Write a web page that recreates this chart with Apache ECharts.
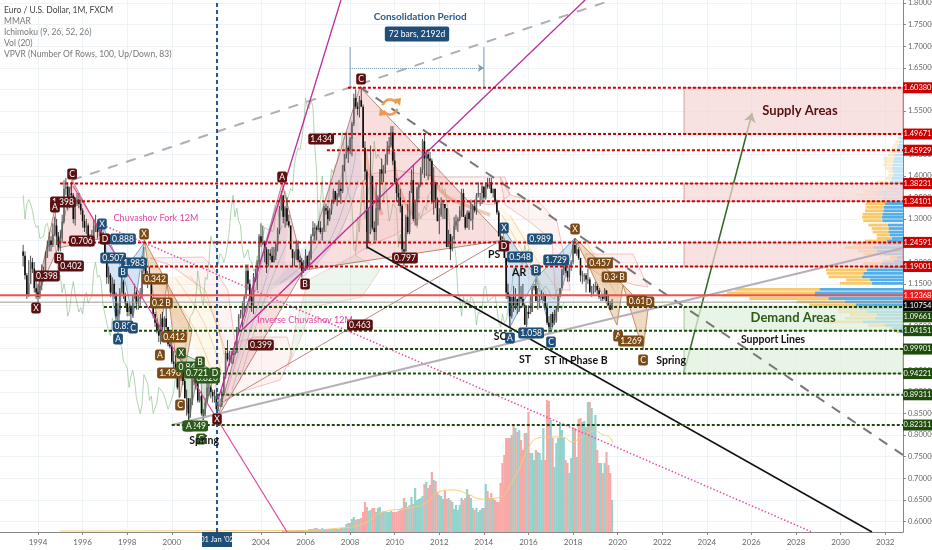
<!DOCTYPE html>
<html><head><meta charset="utf-8">
<style>html,body{margin:0;padding:0;background:#fff;overflow:hidden}#c{width:932px;height:550px}</style>
<script src="https://cdn.jsdelivr.net/npm/echarts@6/dist/echarts.min.js"></script>
</head><body><div id="c"></div>
<script>
// ---------- price, monthly from May 1993 ----------
const closes=[1.215,1.17,1.125,1.15,1.20,1.185,1.14,1.13,
1.12,1.145,1.175,1.17,1.21,1.235,1.25,1.24,1.265,1.285,1.26,1.235,
1.255,1.295,1.37,1.375,1.335,1.36,1.355,1.30,1.335,1.345,1.335,1.32,
1.295,1.28,1.285,1.255,1.255,1.26,1.285,1.29,1.27,1.275,1.26,1.25,
1.21,1.165,1.17,1.13,1.15,1.125,1.075,1.09,1.13,1.155,1.125,1.105,
1.085,1.095,1.08,1.115,1.13,1.105,1.115,1.12,1.18,1.20,1.165,1.17,
1.155,1.10,1.08,1.06,1.04,1.03,1.07,1.05,1.07,1.05,1.01,1.005,
0.97,0.965,0.955,0.91,0.935,0.95,0.925,0.885,0.885,0.85,0.87,0.94,
0.94,0.92,0.88,0.89,0.85,0.85,0.875,0.91,0.91,0.90,0.89,0.89,
0.86,0.87,0.87,0.90,0.935,0.99,0.975,0.98,0.985,0.99,0.99,1.05,
1.075,1.08,1.09,1.12,1.18,1.15,1.12,1.10,1.165,1.16,1.20,1.26,
1.245,1.245,1.23,1.195,1.22,1.215,1.20,1.215,1.24,1.275,1.325,1.355,
1.305,1.325,1.295,1.285,1.23,1.21,1.21,1.23,1.205,1.20,1.18,1.185,
1.215,1.19,1.21,1.26,1.28,1.28,1.275,1.28,1.27,1.275,1.325,1.32,
1.30,1.32,1.335,1.365,1.345,1.355,1.37,1.365,1.425,1.45,1.465,1.46,
1.485,1.52,1.58,1.56,1.555,1.575,1.56,1.465,1.41,1.27,1.27,1.40,
1.28,1.27,1.325,1.325,1.415,1.405,1.425,1.43,1.465,1.47,1.50,1.435,
1.385,1.36,1.35,1.33,1.23,1.225,1.305,1.27,1.36,1.39,1.30,1.34,
1.37,1.38,1.415,1.48,1.44,1.45,1.44,1.435,1.34,1.385,1.345,1.295,
1.31,1.335,1.335,1.325,1.235,1.265,1.23,1.255,1.285,1.295,1.30,1.32,
1.36,1.305,1.28,1.315,1.30,1.30,1.33,1.32,1.355,1.36,1.36,1.375,
1.35,1.38,1.375,1.385,1.36,1.37,1.34,1.315,1.26,1.25,1.245,1.21,
1.13,1.12,1.075,1.12,1.10,1.115,1.10,1.12,1.115,1.10,1.055,1.085,
1.08,1.085,1.14,1.145,1.11,1.11,1.115,1.115,1.125,1.095,1.06,1.05,
1.08,1.06,1.065,1.09,1.125,1.14,1.185,1.19,1.18,1.165,1.19,1.20,
1.24,1.22,1.23,1.21,1.17,1.17,1.17,1.16,1.16,1.13,1.13,1.145,
1.145,1.135,1.12,1.12,1.115,1.135,1.11,1.10,1.09,1.1075];
const highs=[1.24,1.225,1.175,1.205,1.215,1.21,1.20,1.165,
1.15,1.16,1.195,1.19,1.225,1.25,1.27,1.26,1.29,1.305,1.30,1.27,
1.275,1.31,1.39,1.395,1.385,1.375,1.385,1.36,1.345,1.36,1.36,1.345,
1.325,1.31,1.30,1.29,1.265,1.275,1.30,1.31,1.295,1.29,1.285,1.27,
1.255,1.21,1.19,1.175,1.165,1.16,1.13,1.105,1.14,1.17,1.16,1.13,
1.11,1.105,1.10,1.125,1.15,1.135,1.125,1.14,1.215,1.235,1.205,1.18,
1.19,1.155,1.11,1.085,1.07,1.055,1.08,1.085,1.075,1.095,1.05,1.03,
1.035,0.995,0.985,0.965,0.94,0.965,0.955,0.93,0.905,0.885,0.885,0.945,
0.955,0.945,0.935,0.90,0.90,0.86,0.885,0.925,0.93,0.915,0.905,0.905,
0.905,0.88,0.885,0.905,0.94,0.995,1.02,0.995,0.995,0.995,1.015,1.05,
1.08,1.09,1.11,1.125,1.195,1.195,1.16,1.13,1.175,1.185,1.205,1.265,
1.29,1.285,1.25,1.235,1.23,1.23,1.235,1.235,1.245,1.28,1.33,1.365,
1.35,1.33,1.35,1.31,1.285,1.23,1.225,1.25,1.25,1.215,1.21,1.205,
1.23,1.215,1.225,1.265,1.295,1.29,1.285,1.295,1.295,1.28,1.33,1.335,
1.33,1.325,1.345,1.37,1.36,1.36,1.39,1.38,1.425,1.45,1.50,1.47,
1.49,1.525,1.59,1.60,1.57,1.585,1.605,1.565,1.48,1.415,1.325,1.47,
1.40,1.295,1.38,1.355,1.415,1.44,1.425,1.45,1.48,1.49,1.515,1.515,
1.455,1.395,1.38,1.37,1.335,1.245,1.31,1.335,1.365,1.415,1.425,1.345,
1.375,1.385,1.42,1.485,1.495,1.46,1.455,1.455,1.44,1.42,1.385,1.35,
1.325,1.35,1.345,1.335,1.325,1.275,1.265,1.26,1.305,1.31,1.305,1.33,
1.37,1.37,1.31,1.32,1.32,1.345,1.335,1.345,1.36,1.385,1.36,1.38,
1.375,1.385,1.395,1.395,1.395,1.37,1.37,1.345,1.32,1.285,1.26,1.25,
1.21,1.15,1.125,1.12,1.145,1.14,1.115,1.17,1.145,1.15,1.105,1.10,
1.10,1.125,1.145,1.15,1.16,1.14,1.125,1.135,1.13,1.125,1.105,1.075,
1.08,1.085,1.09,1.095,1.125,1.14,1.18,1.205,1.21,1.18,1.195,1.205,
1.25,1.255,1.245,1.235,1.21,1.18,1.175,1.175,1.185,1.165,1.145,1.15,
1.155,1.15,1.14,1.125,1.125,1.14,1.13,1.125,1.11,1.115];
const lows=[1.19,1.16,1.115,1.12,1.15,1.175,1.13,1.115,
1.105,1.115,1.135,1.155,1.165,1.21,1.225,1.225,1.235,1.26,1.24,1.225,
1.225,1.245,1.29,1.355,1.32,1.325,1.345,1.29,1.285,1.33,1.325,1.31,
1.28,1.27,1.265,1.245,1.235,1.25,1.255,1.27,1.255,1.26,1.25,1.24,
1.205,1.15,1.15,1.12,1.125,1.115,1.07,1.065,1.08,1.13,1.115,1.095,
1.075,1.075,1.065,1.075,1.115,1.09,1.09,1.095,1.115,1.175,1.15,1.14,
1.15,1.095,1.07,1.05,1.035,1.015,1.01,1.04,1.025,1.045,1.005,1.0,
0.965,0.955,0.95,0.905,0.885,0.925,0.915,0.885,0.845,0.825,0.84,0.87,
0.915,0.905,0.875,0.875,0.845,0.835,0.84,0.875,0.89,0.885,0.875,0.875,
0.855,0.855,0.865,0.865,0.895,0.93,0.97,0.96,0.965,0.965,0.985,0.99,
1.035,1.07,1.05,1.075,1.115,1.135,1.11,1.085,1.08,1.155,1.135,1.195,
1.235,1.24,1.20,1.175,1.19,1.205,1.20,1.20,1.205,1.225,1.265,1.32,
1.29,1.28,1.285,1.28,1.23,1.19,1.19,1.205,1.20,1.185,1.165,1.175,
1.18,1.185,1.185,1.205,1.26,1.25,1.25,1.275,1.265,1.25,1.27,1.31,
1.285,1.295,1.31,1.335,1.34,1.33,1.35,1.335,1.36,1.41,1.44,1.43,
1.45,1.445,1.515,1.555,1.54,1.535,1.56,1.465,1.39,1.23,1.245,1.265,
1.275,1.25,1.25,1.285,1.32,1.385,1.385,1.405,1.425,1.45,1.465,1.425,
1.385,1.34,1.33,1.315,1.215,1.19,1.225,1.265,1.265,1.365,1.295,1.285,
1.285,1.345,1.375,1.405,1.395,1.40,1.39,1.40,1.335,1.31,1.325,1.295,
1.265,1.305,1.30,1.30,1.235,1.245,1.205,1.225,1.25,1.275,1.27,1.295,
1.305,1.305,1.275,1.28,1.275,1.295,1.275,1.315,1.31,1.35,1.33,1.335,
1.345,1.345,1.37,1.37,1.36,1.35,1.335,1.31,1.26,1.25,1.235,1.21,
1.115,1.115,1.05,1.07,1.085,1.09,1.08,1.085,1.105,1.095,1.055,1.05,
1.07,1.08,1.085,1.135,1.11,1.09,1.095,1.115,1.11,1.09,1.055,1.035,
1.045,1.05,1.055,1.06,1.085,1.12,1.14,1.17,1.175,1.155,1.155,1.18,
1.195,1.22,1.215,1.205,1.155,1.15,1.155,1.13,1.15,1.135,1.12,1.125,
1.13,1.125,1.115,1.11,1.11,1.115,1.11,1.10,1.09,1.09];
const firstOpen=1.225;
// ---------- volume (arbitrary units), monthly from Jan 2005 ----------
const volumes=[1,1,1,1,1,1,2,2,2,2,2,2, 2,2,3,3,3,4,4,3,3,4,3,3, 3,3,3,3,3,3,3,4,4,4,8,9,
9,13,15,12,13,13,14,20,30,25,21,22, 24,24,20,24,25,20,21,21,20,20,21,20,
20,20,21,22,24,34,30,25,27,35,28,44, 32,33,34,36,48,50,44,47,60,52,51,40,
37,36,33,42,33,34,32,30,23,27,22,27, 34,32,34,43,37,34,24,22,24,20,22,24,
24,48,41,34,39,34,32,30,30,49,69,77, 94,94,94,97,108,104,100,102,92,82,99,99,
120,79,79,72,82,80,79,72,104,72,132,131, 112,94,65,89,94,109,102,94,72,69,59,74,
105,104,75,113,114,110,111,105,130,130,124,107, 117,82,69,69,59,69,80,67,59,32];
const volumeMA=[[1994.99,1],[2005.75,1.5],[2007.55,4],[2008.45,7],[2009.48,20],[2010.69,24],[2011.45,30],[2011.94,40],[2012.62,42],[2013.38,37],[2013.83,33],[2014.59,34],[2015.31,52],[2016.07,87],[2016.43,94],[2016.97,95],[2017.55,95],[2017.96,90],[2018.31,94],[2018.99,101],[2019.35,97],[2019.57,96],[2019.79,89]];
// ---------- volume profile rows: price, up, down ----------
const vpvrPrice=[1.487,1.479,1.471,1.464,1.456,1.448,1.440,1.433,1.425,1.417,1.410,1.402,1.394,1.386,1.379,1.371,1.363,1.356,1.348,1.340,1.335,1.327,1.319,1.311,1.304,1.296,1.286,1.278,1.270,1.263,1.255,1.249,1.242,1.234,1.226,1.219,1.211,1.203,1.197,1.190,1.182,1.174,1.166,1.159,1.151,1.137,1.129,1.124,1.116,1.108,1.101,1.093,1.085,1.078,1.070,1.062,1.054,1.047,1.039];
const vpvrUp=[3.3,4.3,5,5.7,6.7,6.7,10.7,9.3,9.3,6.7,5,5,5.7,13.3,18,16.7,16.7,21.7,23.3,23,19.3,18.3,18.3,19.7,19.7,19,19.3,17.3,15.7,13.3,15,21.7,25,28.3,18.3,20,6.7,10,18.3,23.3,40.7,36.7,33.3,24,31.7,84.3,88,93,79,48,46.7,21.7,28.3,26.7,30,40,16.7,3.3,3.3];
const vpvrDown=[3,3.7,4.7,5.7,6.3,8,9,9.7,10.3,11.3,9.7,9.7,11.3,13,10,16,23,26,19.7,13,18,19,19.7,20.7,21.3,20.7,15.3,14,14.7,13,11.3,16.3,24.7,29.7,26.3,19.7,6.3,9.7,21.3,19.7,36.3,39.7,41.3,33,31.3,83.7,88,88,74.7,58,47,43,36.3,26.3,28,40,18,10,3];
// ---------- horizontal levels: price, start year ----------
const resistance=[[1.6038,2007.9],[1.49671,2007.01],[1.45929,2006.96],[1.38231,1994.99],[1.34101,1995.52],[1.24591,1994.9],[1.19001,1998.8]];
const support=[[1.09661,1996.96],[1.04151,1996.96],[0.99901,2002.39],[0.94221,2002.07],[0.89311,2002.0],[0.82311,2000.0]];
const lastPrice=1.12368, prevPrice=1.10754;
const yearTicks=[1994,1996,1998,2000,2002,2004,2006,2008,2010,2012,2014,2016,2018,2020,2022,2024,2026,2028,2030,2032];
const priceTicks=[0.60,0.65,0.70,0.75,0.80,0.85,0.90,0.95,1.00,1.05,1.10,1.15,1.20,1.25,1.30,1.35,1.40,1.45,1.50,1.55,1.60,1.65,1.70,1.75,1.80];
// ---------- trend lines ----------
const upperDash=[[1995.53,1.3903],[2019.75,1.807]];
const lowerDash=[[2008.44,1.6056],[2032.8,0.7537]];
const blackFork=[[2008.76,1.2352],[2031.41,0.5755]];
const blackStub=[[2008.76,1.2352],[2008.76,1.27]];
const magentaSteep=[[2002.07,0.881],[2007.59,1.807]];
const magentaLong=[[2003.15,1.043],[2018.54,1.807]];
const pinkFork=[[1995.57,1.3764],[2005.17,0.5755]];
const pinkDotted=[[1996.92,1.2861],[2028.72,0.5755]];
const grayBase=[[2000.0,0.8232],[2032.8,1.2329]];
const brownTrace=[[2002.07,0.8695],[2014.95,1.256]];
const arrowUp=[[2022.98,0.9458],[2026.03,1.5454]];
// ---------- harmonic patterns ----------
const redA=[[[1993.91,1.1194],[1994.76,1.3255],[1994.9,1.2328]],[[1994.9,1.2328],[1995.53,1.3903],[1996.92,1.256]],
            [[2002.07,0.8416],[2004.95,1.3833],[2005.93,1.1819]],[[2005.93,1.1819],[2008.44,1.6056],[2014.95,1.2514]]];
const blueA=[[[1996.87,1.2884],[1997.59,1.0315],[1997.81,1.1773]],[[1997.81,1.1773],[1998.26,1.0708],[1998.76,1.2444]],
             [[2014.86,1.2792],[2015.17,1.05],[2016.34,1.1634]],[[2016.34,1.1634],[2017.01,1.0361],[2018.09,1.256]]];
const brownA=[[[1998.76,1.2514],[1999.47,1.0315],[1999.79,1.1518]],[[1999.79,1.1518],[2000.37,0.888],[2000.91,1.0431]],
              [[2018.09,1.256],[2019.97,1.0546],[2020.24,1.1472]],[[2020.24,1.1472],[2021.14,0.9968],[2021.36,1.0893]]];
const greenA=[[[2000.42,0.9898],[2000.77,0.8347],[2001.27,0.969]],[[2001.27,0.969],[2001.4,0.8347],[2001.9,0.9435]]];
// ---------- Ichimoku clouds ----------
const cloudRed=[[[1999.02,1.2097],[2001.40,1.2120],[2001.85,1.1889],[2002.52,1.1356],[2002.84,1.0129],[2003.73,1.0268],[2005.17,1.0268],[2005.39,0.9852],[2004.86,0.9273],[2003.06,0.8995],[2002.39,0.881],[2002.39,0.9968],[2001.49,1.1356],[1999.92,1.1935]],
 [[2008.67,1.4018],[2010.01,1.4134],[2012.03,1.3972],[2014.95,1.3972],[2015.17,1.3556],[2014.5,1.3324],[2012.26,1.344],[2010.01,1.263],[2008.89,1.2398],[2008.22,1.2167]],
 [[2014.73,1.3972],[2015.17,1.3556],[2016.52,1.337],[2017.28,1.293],[2017.55,1.2282],[2017.87,1.1356],[2017.19,1.1356],[2017.06,1.2514],[2016.07,1.293],[2014.95,1.3324]],
 [[2018.54,1.219],[2020.69,1.219],[2021.36,1.1426],[2020.78,1.1472],[2019.21,1.1704],[2018.54,1.1935]]];
const cloudGreen=[[[2005.21,0.9574],[2005.57,1.0546],[2006.11,1.1588],[2008.22,1.2167],[2009.34,1.1819],[2008.53,1.1194],[2006.29,1.0963],[2005.75,1.0199]]];
// ---------- MMAR ribbons ----------
const ribbonBlue=[[[2002.25,0.881],[2003.06,1.043],[2004.05,1.2398],[2004.86,1.3556],[2005.21,1.2745],[2005.08,1.2004],[2005.75,1.1773],[2004.5,1.1356],[2003.29,1.0083]],
 [[2004.5,1.1472],[2006.2,1.2514],[2007.77,1.4944],[2008.35,1.5755],[2008.53,1.3903],[2008.0,1.3324],[2007.55,1.2514],[2005.75,1.1588]]];
const ribbonOrange=[[[1999.25,1.1634],[2000.82,1.1704],[2001.94,1.1125],[2002.39,0.9968],[2002.03,0.881],[2001.04,0.9968],[1999.92,1.0893]],
 [[2014.64,1.3393],[2016.07,1.2514],[2017.42,1.1588],[2017.64,1.1125],[2016.52,1.1125],[2015.62,1.1935],[2014.95,1.263]],
 [[2018.31,1.263],[2019.44,1.2004],[2020.33,1.1241],[2019.75,1.1125],[2018.76,1.1819]]];
const ribbonBlueLines=[[[2004.86,1.1518],[2006.65,1.2514],[2008.09,1.5292]],[[2005.30,1.1542],[2007.10,1.2514],[2008.27,1.4597]],[[2005.75,1.1588],[2007.46,1.263],[2008.35,1.3903]],
 [[2002.43,0.8926],[2003.51,1.0893],[2004.63,1.3324]],[[2002.70,0.9042],[2003.87,1.1009],[2004.95,1.2861]],[[2003.06,0.9273],[2004.23,1.1241],[2005.13,1.2398]]];
const ribbonWarmLines=[[[1999.47,1.1588],[2001.04,1.043],[2002.07,0.8926]],[[2000.15,1.1634],[2001.49,1.0546],[2002.25,0.9389]],[[2000.82,1.168],[2001.85,1.0778],[2002.34,0.9852]],
 [[2014.82,1.3093],[2016.07,1.1935],[2016.97,1.1125]],[[2015.17,1.3093],[2016.52,1.1935],[2017.33,1.1356]],[[2018.54,1.2514],[2019.44,1.1704],[2020.02,1.1171]]];
const ribbonDrops=[[[2008.67,1.4597],[2008.98,1.3787],[2009.43,1.3093]],[[2009.88,1.4597],[2010.24,1.3671],[2010.78,1.3093]],[[2011.58,1.4018],[2012.26,1.3556],[2013.16,1.3324],[2014.28,1.3093]]];
// ---------- zones ----------
const supplyZones=[[1.4967,1.6038],[1.341,1.3823],[1.19,1.2459]];
const demandZones=[[1.0415,1.0966],[0.9422,0.999]];
const zoneStart=2022.98, xMin=1992.295, xMax=2032.8, yMin=0.5755, yMax=1.807;
// ---------- text on chart: year, price, text ----------
const labelsRed=[[1993.91,1.094,'X'],[1995.12,1.3393,'1.398'],[1994.76,1.3278,'A'],[1994.94,1.2097,'B'],[1995.53,1.4042,'C'],[1994.4,1.168,'0.398'],[1995.48,1.1912,'0.402'],[1995.97,1.2491,'0.706'],[1997.0,1.2537,'D'],[2004.95,1.3972,'A'],[2005.98,1.1495,'B'],[2008.49,1.6241,'C'],[2002.03,0.837,'X'],[2014.9,1.2375,'D'],[2006.7,1.4852,'1.434'],[2004.0,1.0083,'0.399'],[2010.46,1.2097,'0.797'],[2008.44,1.0546,'0.463']];
const labelsBlue=[[1996.87,1.2884,'X'],[1997.81,1.2537,'0.888'],[1997.37,1.2097,'0.507'],[1997.81,1.1773,'B'],[1998.31,1.1981,'1.983'],[1997.81,1.0523,'0.85'],[1998.26,1.0477,'C'],[1997.59,1.0222,'A'],[2014.9,1.2792,'X'],[2015.17,1.0245,'A'],[2016.34,1.1819,'B'],[2017.01,1.0153,'C'],[2015.62,1.212,'0.548'],[2016.52,1.2537,'0.989'],[2017.24,1.2051,'1.729'],[2016.12,1.0361,'1.058']];
const labelsBrown=[[1998.76,1.2653,'X'],[1999.25,1.1611,'0.342'],[1999.38,1.1056,'0.2'],[1999.83,1.1056,'B'],[2000.1,1.0269,'0.412'],[1999.47,0.9852,'A'],[1999.92,0.9435,'1.496'],[2000.37,0.8694,'C'],[2018.09,1.2768,'X'],[2019.21,1.1981,'0.457'],[2019.75,1.1657,'0.34'],[2020.2,1.1657,'B'],[2020.87,1.1102,'0.61'],[2021.41,1.1079,'D'],[2020.02,1.0292,'A'],[2020.6,1.0176,'1.269'],[2021.14,0.9736,'C']];
const labelsGreen=[[2000.42,0.9898,'X'],[2000.68,0.9574,'0.84'],[2001.27,0.969,'B'],[2001.58,0.9319,'0.826'],[2001.13,0.9435,'0.721'],[2001.94,0.9435,'D'],[2001.05,0.8208,'1.249'],[2000.77,0.8208,'A'],[2001.31,0.7907,'C']];
const wyckoffText=[[2001.45,0.7861,'Spring'],[2014.46,1.2167,'PS'],[2015.58,1.175,'AR'],[2014.73,1.0268,'SC'],[2015.85,0.9736,'ST'],[2018.13,0.9713,'ST in Phase B'],[2022.4,0.9713,'Spring'],[2026.97,1.0199,'Support Lines']];
const legendLines=['Euro / U.S. Dollar, 1M, FXCM','MMAR','Ichimoku (9, 26, 52, 26)','Vol (20)','VPVR (Number Of Rows, 100, Up/Down, 83)'];

const FONT='Lato,"Noto Sans",sans-serif';
const dates=closes.map((_,i)=>1993+4/12+i/12);
const candles=closes.map((c,i)=>[dates[i],i?closes[i-1]:firstOpen,c,lows[i],highs[i]]);
const chikou=closes.slice(26).map((c,i)=>[dates[i],c]);
const volStart=dates.length-volumes.length;
const volData=volumes.map((v,i)=>[dates[i+volStart],v,closes[i+volStart]>=candles[i+volStart][1]?1:0]);

const series=[];
function line(pts,o){series.push({type:'line',data:pts,showSymbol:false,symbol:'none',silent:true,animation:false,z:o.z||7,yAxisIndex:o.y||0,smooth:o.smooth||false,
  lineStyle:{color:o.color,width:o.width||1,type:o.dash||'solid',opacity:o.op==null?1:o.op,cap:'butt'}});}
function poly(pts,fill,stroke,z,sw){series.push({type:'custom',silent:true,animation:false,z:z,coordinateSystem:'cartesian2d',data:[pts[0]],
  renderItem:(p,api)=>({type:'polygon',shape:{points:pts.map(q=>api.coord(q))},style:{fill:fill,stroke:stroke||null,lineWidth:sw||0.8}})});}
function texts(arr,st,z){series.push({type:'custom',silent:true,animation:false,z:z||10,data:arr.map(a=>[a[0],a[1]]),
  renderItem:(p,api)=>{const c=api.coord([api.value(0),api.value(1)]);
    return {type:'text',style:Object.assign({x:c[0],y:c[1],text:arr[p.dataIndex][2],align:'center',verticalAlign:'middle',fontFamily:FONT},st)};}});}

// clouds, ribbons
cloudRed.forEach(c=>poly(c,'rgba(245,170,170,0.14)','rgba(235,120,120,0.55)',2));
cloudGreen.forEach(c=>poly(c,'rgba(170,215,170,0.22)','rgba(235,140,130,0.45)',2));
ribbonBlue.forEach(c=>poly(c,'rgba(130,165,215,0.14)',null,3));
ribbonOrange.forEach(c=>poly(c,'rgba(250,195,120,0.14)',null,3));
ribbonBlueLines.forEach(l=>line(l,{color:'#7f9cc8',width:1,op:.45,z:3,smooth:true}));
ribbonWarmLines.forEach(l=>line(l,{color:'#e6a860',width:1,op:.45,z:3,smooth:true}));
ribbonDrops.forEach(l=>line(l,{color:'#ee7040',width:3.5,op:.4,z:3,smooth:true}));
// patterns
redA.forEach(c=>poly(c,'rgba(229,115,115,0.24)','#a8695f',4));
blueA.forEach(c=>poly(c,'rgba(90,150,210,0.26)','#5e8fbd',4));
brownA.forEach(c=>poly(c,'rgba(215,150,90,0.36)','#b07a45',4));
greenA.forEach(c=>poly(c,'rgba(120,170,120,0.32)','#5f8a55',4));
// chikou
line(chikou,{color:'#7fb87f',width:0.8,op:.75,z:3});
// VPVR
series.push({type:'custom',silent:true,animation:false,xAxisIndex:1,yAxisIndex:0,z:3,data:vpvrPrice.map((p,i)=>[0,p]),
  renderItem:(pm,api)=>{const i=pm.dataIndex,p=vpvrPrice[i],o=api.coord([0,p]),b=api.coord([vpvrDown[i],p]),u=api.coord([vpvrDown[i]+vpvrUp[i],p]);
    const al=p>1.345?0.35:1;
    return {type:'group',children:[
      {type:'rect',shape:{x:b[0],y:o[1]-1.4,width:o[0]-b[0],height:2.8},style:{fill:'#55aee6',opacity:al}},
      {type:'rect',shape:{x:u[0],y:o[1]-1.4,width:b[0]-u[0],height:2.8},style:{fill:'#f9c96b',opacity:al}}]};}});
// zones
supplyZones.forEach(z=>poly([[zoneStart,z[0]],[xMax,z[0]],[xMax,z[1]],[zoneStart,z[1]]],'rgba(245,214,214,0.72)','#c98f8f',5));
demandZones.forEach(z=>poly([[zoneStart,z[0]],[xMax,z[0]],[xMax,z[1]],[zoneStart,z[1]]],'rgba(224,240,220,0.74)','#94b98c',5));
// volume
series.push({type:'custom',silent:true,animation:false,yAxisIndex:1,z:3,data:volData,
  renderItem:(pm,api)=>{const a=api.coord([api.value(0),0]),b=api.coord([api.value(0),api.value(1)]);
    return {type:'rect',shape:{x:a[0]-1.1,y:b[1],width:2.2,height:a[1]-b[1]},style:{fill:api.value(2)?'#92d3cc':'#f6a9a6'}};}});
line(volumeMA,{color:'#f9cb75',width:1,z:4,y:1,smooth:true});
// candles
series.push({type:'custom',silent:true,animation:false,z:6,data:candles,
  renderItem:(pm,api)=>{const t=api.value(0),o=api.coord([t,api.value(1)]),c=api.coord([t,api.value(2)]),l=api.coord([t,api.value(3)]),h=api.coord([t,api.value(4)]);
    const up=api.value(2)>=api.value(1);
    return {type:'group',children:[
      {type:'line',shape:{x1:l[0],y1:l[1],x2:h[0],y2:h[1]},style:{stroke:'#222',lineWidth:0.8}},
      {type:'rect',shape:{x:c[0]-0.8,y:Math.min(o[1],c[1]),width:1.6,height:Math.max(1,Math.abs(o[1]-c[1]))},style:{fill:up?'#666':'#0c0c0c'}}]};}});
// levels
resistance.forEach(r=>line([[r[1],r[0]],[xMax,r[0]]],{color:'#cc0000',width:2,dash:[3,2],z:8}));
support.forEach(r=>line([[r[1],r[0]],[xMax,r[0]]],{color:'#1e4d0b',width:2,dash:[3,2],z:8}));
line([[xMin,lastPrice],[xMax,lastPrice]],{color:'#ef5350',width:2,z:8});
line([[xMin,prevPrice],[xMax,prevPrice]],{color:'#9a9a9a',width:1,z:8});
// trend lines
line(upperDash,{color:'#b0aeb0',width:2,dash:[10,9]});
line(lowerDash,{color:'#777',width:2,dash:[10,9]});
line(blackFork,{color:'#111',width:1.5});
line(blackStub,{color:'#111',width:1.2});
line(magentaSteep,{color:'#bf2a9c',width:1.3});
line(magentaLong,{color:'#bf2a9c',width:1.3});
line(pinkFork,{color:'#e0439f',width:1.2});
line(pinkDotted,{color:'#ec4ea6',width:1.5,dash:[1.5,2]});
line(grayBase,{color:'#b7afb7',width:2.2});
line(brownTrace,{color:'#b98a80',width:1});
// date vertical
line([[2002.03,yMin],[2002.03,yMax]],{color:'#27578c',width:2,dash:[4,3],z:9});
// green arrow and date range
series.push({type:'line',data:[],silent:true,animation:false,z:7,markLine:{silent:true,animation:false,symbol:['none','arrow'],symbolSize:9,label:{show:false},lineStyle:{color:'#2e6b1f',width:1.5,type:'solid'},data:[[{coord:arrowUp[0]},{coord:arrowUp[1]}]]}});
series.push({type:'line',data:[],silent:true,animation:false,z:7,markLine:{silent:true,animation:false,symbol:['none','arrow'],symbolSize:6,label:{show:false},lineStyle:{color:'#7d9ab8',width:1,type:'dotted'},data:[[{coord:[2008,1.6495]},{coord:[2014,1.6495]}]]}});
line([[2008,1.6032],[2008,1.6981]],{color:'#7d9ab8',width:1});
line([[2014,1.6032],[2014,1.6981]],{color:'#7d9ab8',width:1});
// refresh icon
series.push({type:'custom',silent:true,animation:false,z:9,data:[[2009.79,1.5593]],
  renderItem:(pm,api)=>{const c=api.coord([api.value(0),api.value(1)]);const st={stroke:'#ee9a4e',lineWidth:2.6,fill:null};
    return {type:'group',children:[
      {type:'arc',shape:{cx:c[0],cy:c[1],r:7.5,startAngle:-2.9,endAngle:-0.5},style:st},
      {type:'arc',shape:{cx:c[0],cy:c[1],r:7.5,startAngle:0.25,endAngle:2.65},style:st},
      {type:'polygon',shape:{points:[[c[0]+4,c[1]-8],[c[0]+10,c[1]-1],[c[0]+11,c[1]-9]]},style:{fill:'#ee9a4e'}},
      {type:'polygon',shape:{points:[[c[0]-4,c[1]+8],[c[0]-10,c[1]+1],[c[0]-11,c[1]+9]]},style:{fill:'#ee9a4e'}}]};}});
// labels
const box={fill:'#fff',fontSize:8.5,padding:[1,2,1,2],borderRadius:2};
texts(labelsRed,Object.assign({backgroundColor:'#5a1010'},box));
texts(labelsBlue,Object.assign({backgroundColor:'#1f4e79'},box));
texts(labelsBrown,Object.assign({backgroundColor:'#7a4a14'},box));
texts(labelsGreen,Object.assign({backgroundColor:'#2c5a1a'},box));
texts(wyckoffText,{fill:'#111',fontSize:10.5,fontWeight:'bold'},11);
texts([[1999.29,1.3023,'Chuvashov Fork 12M']],{fill:'#e0459f',fontSize:9},11);
texts([[2005.98,1.0662,'Inverse Chuvashov 12M']],{fill:'#e0459f',fontSize:9},11);
texts([[2028.18,1.55,'Supply Areas']],{fill:'#5a1010',fontSize:13,fontWeight:'bold'},11);
texts([[2027.87,1.0708,'Demand Areas']],{fill:'#2c5a1a',fontSize:13,fontWeight:'bold'},11);
texts([[2011.14,1.7676,'Consolidation Period']],{fill:'#2a5a8a',fontSize:10,fontWeight:'bold'},11);
texts([[2011.0,1.7282,'72 bars, 2192d']],Object.assign({backgroundColor:'#1f4e79'},box,{padding:[3,4,3,4]}),11);
// right tags: price, colour, drawn shift off the line where tags would collide
const tagRows=resistance.map(r=>[r[0],'#cc0000',0]).concat(support.map(r=>[r[0],'#1e4d0b',r[0]===1.09661?10:0]),[[lastPrice,'#ee1c1c',0],[prevPrice,'#0a0a0a',3.6]]);
series.push({type:'custom',silent:true,animation:false,z:20,data:tagRows.map(t=>[xMax,t[0]]),clip:false,
  renderItem:(pm,api)=>{const c=api.coord([api.value(0),api.value(1)]),t=tagRows[pm.dataIndex],y=c[1]+t[2];
    return {type:'group',children:[
      {type:'rect',shape:{x:c[0],y:y-5.5,width:29,height:11},style:{fill:t[1]}},
      {type:'text',style:{x:c[0]+14.5,y:y,text:t[0].toFixed(5),fill:'#fff',fontSize:7.5,align:'center',verticalAlign:'middle',fontFamily:FONT}}]};}});
// date tag
series.push({type:'custom',silent:true,animation:false,z:20,data:[[2002.03,yMin]],clip:false,
  renderItem:(pm,api)=>{const c=api.coord([api.value(0),api.value(1)]);
    return {type:'group',children:[
      {type:'rect',shape:{x:c[0]-15,y:c[1],width:30,height:15},style:{fill:'#1f4e79'}},
      {type:'text',style:{x:c[0],y:c[1]+7.5,text:"01 Jan '02",fill:'#fff',fontSize:7.5,align:'center',verticalAlign:'middle',fontFamily:FONT}}]};}});

const chart=echarts.init(document.getElementById('c'),null,{renderer:'canvas',width:932,height:550});
chart.setOption({animation:false,backgroundColor:'#fff',
 grid:{left:0,width:903,top:0,height:532,containLabel:false,outerBoundsMode:'none'},
 xAxis:[{type:'value',min:xMin,max:xMax,position:'bottom',
   axisLine:{show:true,onZero:false,lineStyle:{color:'#888'}},
   axisTick:{show:true,length:3,customValues:yearTicks,lineStyle:{color:'#888'}},
   axisLabel:{customValues:yearTicks,color:'#666',fontSize:8,margin:6,fontFamily:FONT,formatter:v=>String(v)},
   splitLine:{show:true,lineStyle:{color:'#edf3f7',width:1}}},
  {type:'value',min:0,max:903,inverse:true,show:false}],
 yAxis:[{type:'value',min:yMin,max:yMax,position:'right',
   axisLine:{show:true,onZero:false,lineStyle:{color:'#888'}},
   axisTick:{show:true,length:3,customValues:priceTicks,lineStyle:{color:'#888'}},
   axisLabel:{customValues:priceTicks,color:'#666',fontSize:7.5,margin:5,fontFamily:FONT,formatter:v=>v.toFixed(5)},
   splitLine:{show:true,lineStyle:{color:'#edf3f7',width:1}}},
  {type:'value',min:0,max:532,show:false}],
 graphic:legendLines.map((t,i)=>({type:'text',left:4,top:[6,17,28,39,50][i],silent:true,z:30,
   style:{text:t,fill:i?'#777':'#444',fontSize:8.5,fontFamily:FONT}})),
 series:series});
</script></body></html>
